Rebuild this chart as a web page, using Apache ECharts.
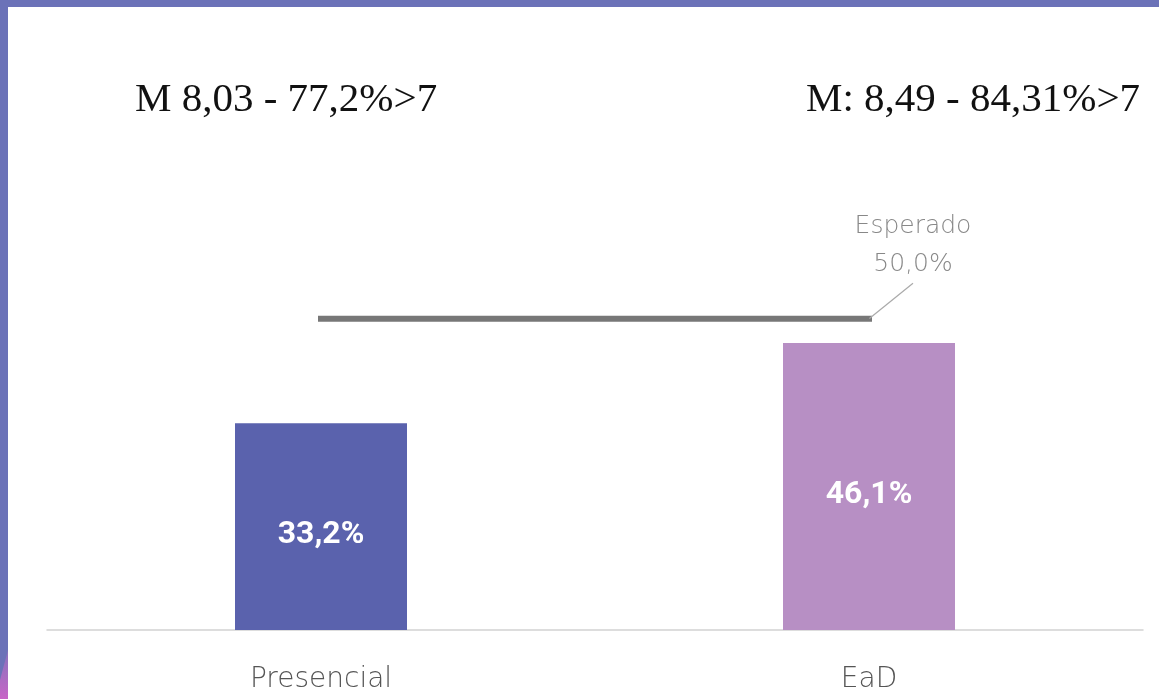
<!DOCTYPE html>
<html>
<head>
<meta charset="utf-8">
<script src="https://cdn.jsdelivr.net/npm/echarts@6/dist/echarts.min.js"></script>
<style>
  html, body { margin: 0; padding: 0; background: #ffffff; }
  #chart { width: 1159px; height: 699px; }
</style>
</head>
<body>
<div id="chart"></div>
<script>
// Share of students per modality, with the expected target
const categories = ['Presencial', 'EaD'];
const values = [33.2, 46.1];
const expected = [50.0, 50.0];
const barColors = ['#5a62ad', '#b78fc4'];
const headlines = ['M 8,03 - 77,2%>7', 'M: 8,49 - 84,31%>7'];

const fmt = v => v.toFixed(1).replace('.', ',') + '%';
const last = expected.length - 1;
const thinFont = '"DejaVu Sans", sans-serif';

const chart = echarts.init(document.getElementById('chart'));

chart.setOption({
  animation: false,
  backgroundColor: '#ffffff',
  grid: { left: 47, right: 16, top: 132, bottom: 69, containLabel: false },
  xAxis: {
    type: 'category',
    data: categories,
    axisLine: { show: true, lineStyle: { color: '#d2d2d2', width: 1.5 } },
    axisTick: { show: false },
    axisLabel: {
      color: '#555555',
      fontFamily: thinFont,
      fontWeight: 200,
      fontSize: 28,
      margin: 36
    }
  },
  yAxis: {
    type: 'value',
    min: 0,
    max: 80,
    show: false
  },
  series: [
    {
      type: 'bar',
      barWidth: 172,
      data: values.map((v, i) => ({ value: v, itemStyle: { color: barColors[i] } })),
      label: {
        show: true,
        position: 'inside',
        offset: [0, 8],
        formatter: p => fmt(p.value),
        color: '#ffffff',
        fontFamily: 'Roboto',
        fontWeight: 'bold',
        fontSize: 32
      }
    },
    {
      type: 'line',
      data: expected.map((v, i) => ({
        value: v,
        label: { show: i === last },
        labelLine: { show: i === last }
      })),
      symbol: 'circle',
      symbolSize: 1,
      itemStyle: { color: 'rgba(0,0,0,0)' },
      lineStyle: { color: '#777777', width: 6, cap: 'square' },
      label: {
        position: 'top',
        formatter: p => 'Esperado\n' + fmt(p.value),
        color: '#888888',
        fontFamily: thinFont,
        fontWeight: 200,
        fontSize: 25,
        lineHeight: 38,
        align: 'center'
      },
      labelLine: { lineStyle: { color: '#aaaaaa', width: 1.2 } },
      labelLayout: p => p.dataIndex === last ? { dx: 44, dy: -30 } : {}
    }
  ],
  graphic: [
    // frame strips along the top and left edges
    { type: 'rect', left: 0, top: 0, shape: { width: 1159, height: 7 }, style: { fill: '#6b72b8' }, z: 10 },
    { type: 'rect', left: 0, top: 0, shape: { width: 8, height: 699 }, style: { fill: '#6b72b8' }, z: 10 },
    {
      type: 'polygon', z: 11,
      shape: { points: [[0, 699], [0, 680], [8, 650], [8, 699]] },
      style: {
        fill: new echarts.graphic.LinearGradient(0, 0, 0, 1, [
          { offset: 0, color: 'rgba(200,110,200,0.3)' },
          { offset: 1, color: 'rgba(210,100,200,0.9)' }
        ])
      }
    },
    {
      type: 'text', left: 135, top: 80, z: 10,
      style: { text: headlines[0], fill: '#111111', font: '41px "Liberation Serif", serif' }
    },
    {
      type: 'text', right: 19, top: 80, z: 10,
      style: { text: headlines[1], fill: '#111111', font: '41px "Liberation Serif", serif' }
    }
  ]
});
</script>
</body>
</html>
